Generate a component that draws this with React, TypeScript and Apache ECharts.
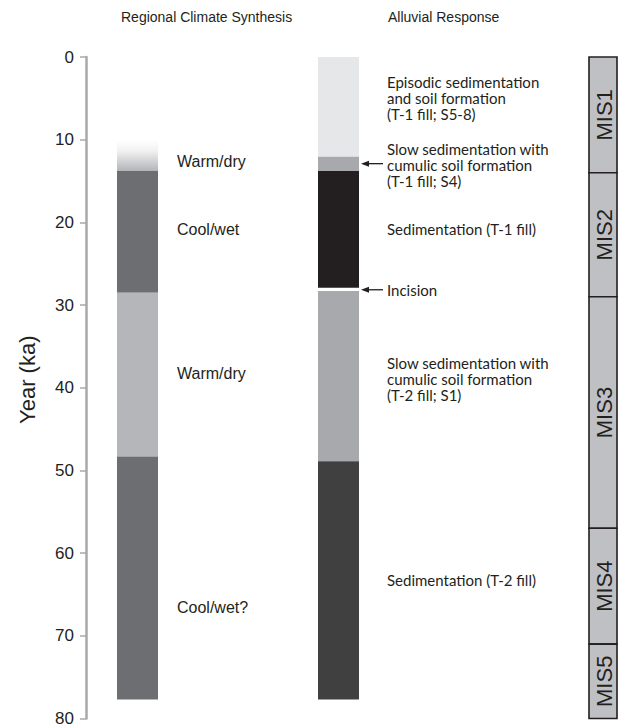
import React, { useEffect, useRef } from "react";
import * as echarts from "echarts";

// ---- data (ka) ----
const yTicks = [0, 10, 20, 30, 40, 50, 60, 70, 80];

const climateStart = [10, 13.8, 28.5, 48.3];
const climateEnd = [13.8, 28.5, 48.3, 77.7];
const climateLabels = ["Warm/dry", "Cool/wet", "Warm/dry", "Cool/wet?"];
const climateLabelAt = [12.65, 20.9, 38.3, 66.6];

const alluvialStart = [0, 12.05, 13.8, 28.3, 48.9];
const alluvialEnd = [12.05, 13.8, 27.9, 48.9, 77.7];
const alluvialLabels = [
  ["Episodic sedimentation", "and soil formation", "(T-1 fill; S5-8)"],
  ["Slow sedimentation with", "cumulic soil formation", "(T-1 fill; S4)"],
  ["Sedimentation (T-1 fill)"],
  ["Incision"],
  ["Slow sedimentation with", "cumulic soil formation", "(T-2 fill; S1)"],
  ["Sedimentation (T-2 fill)"],
];
const alluvialLabelAt = [5.0, 13.1, 20.8, 28.15, 38.9, 63.2];
const arrowAt = [12.9, 28.15];

const misStages = ["MIS1", "MIS2", "MIS3", "MIS4", "MIS5"];
const misStart = [0, 14, 29, 57, 71];
const misEnd = [14, 29, 57, 71, 80];

// ---- styles ----
const INK = "#231f20";
const climateColors = ["gradient", "#6d6e71", "#b5b6b9", "#6d6e71"];
const alluvialColors = ["#e6e7e8", "#a7a9ac", "#231f20", "#a7a9ac", "#404041"];
const ARIAL = '"Liberation Sans", Arial, Helvetica, sans-serif';
const SANS2 = 'Lato, "Noto Sans", sans-serif';

const CLIMATE_X = 117;
const ALLUVIAL_X = 318;
const BAR_W = 41;
const CLIMATE_TEXT_X = 177;
const ALLUVIAL_TEXT_X = 387;
const MIS_X = 589;
const MIS_W = 28;
const LINE_H = 16;

export default function App() {
  const ref = useRef<HTMLDivElement>(null);

  useEffect(() => {
    if (!ref.current) return;
    const chart = echarts.init(ref.current, undefined, { renderer: "svg" });

    const grad = new echarts.graphic.LinearGradient(0, 0, 0, 1, [
      { offset: 0, color: "#ffffff" },
      { offset: 0.35, color: "#f2f2f3" },
      { offset: 1, color: "#b3b4b7" },
    ]);

    const yv = (api: any, v: number) => api.coord([0.5, v])[1];

    const option: any = {
      animation: false,
      backgroundColor: "#ffffff",
      grid: { left: 86, right: 3, top: 57, bottom: 8, containLabel: false },
      xAxis: { type: "value", min: 0, max: 1, show: false },
      yAxis: {
        type: "value",
        inverse: true,
        min: 0,
        max: 80,
        interval: 10,
        name: "Year (ka)",
        nameLocation: "middle",
        nameRotate: 90,
        nameGap: 48,
        nameTextStyle: {
          fontSize: 22,
          color: INK,
          fontFamily: ARIAL,
          padding: [0, 0, 0, 16],
        },
        axisLine: { show: true, lineStyle: { color: "#a7a9ac", width: 2.5 } },
        axisTick: { show: true, length: 6, lineStyle: { color: "#a7a9ac", width: 1.5 } },
        splitLine: { show: false },
        axisLabel: {
          fontSize: 17,
          color: INK,
          fontFamily: ARIAL,
          margin: 12,
          formatter: (v: number) => (yTicks.includes(v) ? String(v) : ""),
        },
      },
      graphic: [
        {
          type: "text",
          left: 121,
          top: 10,
          style: { text: "Regional Climate Synthesis", fill: INK, font: `14px ${ARIAL}` },
        },
        {
          type: "text",
          left: 388,
          top: 10,
          style: { text: "Alluvial Response", fill: INK, font: `14px ${ARIAL}` },
        },
      ],
      series: [
        {
          type: "custom",
          name: "climate",
          data: climateStart.map((s, i) => [0.5, s, climateEnd[i]]),
          encode: { x: 0, y: [1, 2] },
          renderItem: (params: any, api: any) => {
            const i = params.dataIndex;
            const y0 = yv(api, api.value(1));
            const y1 = yv(api, api.value(2));
            const c = climateColors[i] === "gradient" ? grad : climateColors[i];
            return {
              type: "rect",
              shape: { x: CLIMATE_X, y: y0, width: BAR_W, height: y1 - y0 },
              style: { fill: c },
            };
          },
        },
        {
          type: "custom",
          name: "climateLabels",
          data: climateLabelAt.map((v) => [0.5, v]),
          encode: { x: 0, y: 1 },
          renderItem: (params: any, api: any) => ({
            type: "text",
            x: CLIMATE_TEXT_X,
            y: yv(api, api.value(1)),
            style: {
              text: climateLabels[params.dataIndex],
              fill: INK,
              font: `16px ${ARIAL}`,
              align: "left",
              verticalAlign: "middle",
            },
          }),
        },
        {
          type: "custom",
          name: "alluvial",
          data: alluvialStart.map((s, i) => [0.5, s, alluvialEnd[i]]),
          encode: { x: 0, y: [1, 2] },
          renderItem: (params: any, api: any) => {
            const i = params.dataIndex;
            const y0 = yv(api, api.value(1));
            const y1 = yv(api, api.value(2));
            return {
              type: "rect",
              shape: { x: ALLUVIAL_X, y: y0, width: BAR_W, height: y1 - y0 },
              style: { fill: alluvialColors[i] },
            };
          },
        },
        {
          type: "custom",
          name: "alluvialLabels",
          data: alluvialLabelAt.map((v) => [0.5, v]),
          encode: { x: 0, y: 1 },
          renderItem: (params: any, api: any) => {
            const lines = alluvialLabels[params.dataIndex];
            const yc = yv(api, api.value(1));
            const first = yc - ((lines.length - 1) * LINE_H) / 2;
            return {
              type: "group",
              children: lines.map((t, k) => ({
                type: "text",
                x: ALLUVIAL_TEXT_X,
                y: first + k * LINE_H,
                style: {
                  text: t,
                  fill: INK,
                  font: `15px ${SANS2}`,
                  align: "left",
                  verticalAlign: "middle",
                },
              })),
            };
          },
        },
        {
          type: "custom",
          name: "arrows",
          data: arrowAt.map((v) => [0.5, v]),
          encode: { x: 0, y: 1 },
          renderItem: (params: any, api: any) => {
            const y = yv(api, api.value(1));
            return {
              type: "group",
              children: [
                {
                  type: "line",
                  shape: { x1: 368, y1: y, x2: 383, y2: y },
                  style: { stroke: INK, lineWidth: 1.3 },
                },
                {
                  type: "polygon",
                  shape: { points: [[361, y], [369, y - 3], [369, y + 3]] },
                  style: { fill: INK },
                },
              ],
            };
          },
        },
        {
          type: "custom",
          name: "mis",
          data: misStart.map((s, i) => [0.5, s, misEnd[i]]),
          encode: { x: 0, y: [1, 2] },
          renderItem: (params: any, api: any) => {
            const y0 = yv(api, api.value(1));
            const y1 = yv(api, api.value(2));
            return {
              type: "group",
              children: [
                {
                  type: "rect",
                  shape: { x: MIS_X, y: y0, width: MIS_W, height: y1 - y0 },
                  style: { fill: "#bfc0c3", stroke: INK, lineWidth: 1.6 },
                },
                {
                  type: "text",
                  x: MIS_X + MIS_W / 2 + 1,
                  y: (y0 + y1) / 2,
                  rotation: Math.PI / 2,
                  style: {
                    text: misStages[params.dataIndex],
                    fill: INK,
                    font: `22px ${ARIAL}`,
                    align: "center",
                    verticalAlign: "middle",
                  },
                },
              ],
            };
          },
        },
      ],
    };

    chart.setOption(option);
    return () => chart.dispose();
  }, []);

  return (
    <div
      ref={ref}
      style={{ position: "absolute", left: 0, top: 0, width: 620, height: 727 }}
    />
  );
}
